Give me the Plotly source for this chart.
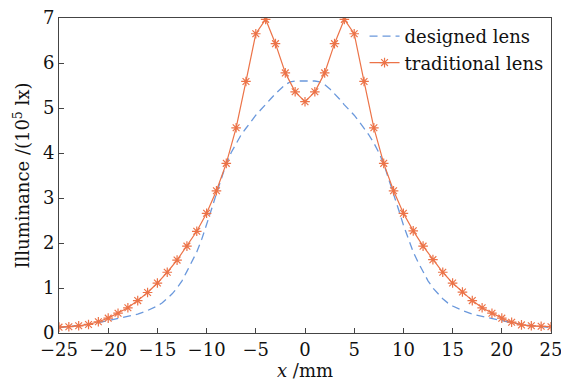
import plotly.graph_objects as go

# Illuminance profiles across the target plane (units of 1e5 lx)
trad_x = list(range(-25, 26))
trad_y = [0.13, 0.14, 0.16, 0.19, 0.25, 0.33, 0.44, 0.56, 0.72, 0.90,
          1.11, 1.35, 1.62, 1.93, 2.26, 2.66, 3.16, 3.77, 4.56, 5.59,
          6.65, 6.97, 6.43, 5.78, 5.36, 5.14, 5.36, 5.78, 6.43, 6.97,
          6.65, 5.59, 4.56, 3.77, 3.16, 2.66, 2.27, 1.93, 1.63, 1.35,
          1.11, 0.91, 0.72, 0.56, 0.44, 0.33, 0.24, 0.18, 0.16, 0.15, 0.14]

design_x = [-25, -24, -23, -22, -21, -20, -19, -18, -17, -16, -15,
            -14.5, -14, -13.5, -13, -12.5, -12, -11.5, -11, -10.5, -10,
            -9.5, -9, -8.5, -8, -7.5, -7, -6.5, -6, -5.5, -5, -4.5, -4,
            -3.5, -3, -2.5, -2, -1.5, -1, -0.5, 0, 0.5, 1, 1.5, 2, 2.5,
            3, 3.5, 4, 4.5, 5, 5.5, 6, 6.5, 7, 7.5, 8, 8.5, 9, 9.5, 10,
            10.5, 11, 11.5, 12, 12.5, 13, 13.5, 14, 14.5, 15, 16, 17, 18,
            19, 20, 21, 22, 23, 24, 25]
design_y = [0.12, 0.14, 0.16, 0.19, 0.23, 0.28, 0.32, 0.37, 0.42, 0.50, 0.60,
            0.67, 0.76, 0.87, 1.00, 1.16, 1.37, 1.57, 1.80, 2.08, 2.40,
            2.75, 3.10, 3.44, 3.76, 4.01, 4.22, 4.40, 4.55, 4.70, 4.84, 4.96, 5.07,
            5.20, 5.32, 5.43, 5.52, 5.58, 5.60, 5.60, 5.60, 5.60, 5.60, 5.58, 5.52, 5.43,
            5.32, 5.20, 5.07, 4.96, 4.84, 4.70, 4.55, 4.40, 4.22, 4.01, 3.76, 3.44, 3.10, 2.75, 2.40,
            2.08, 1.80, 1.57, 1.37, 1.16, 1.00, 0.87, 0.76, 0.67, 0.60, 0.50, 0.42, 0.37,
            0.32, 0.28, 0.23, 0.19, 0.16, 0.14, 0.12]

x_ticks = list(range(-25, 30, 5))
y_ticks = list(range(0, 8))

BLUE = "#6a98dc"
ORANGE = "#ec7348"
FONT = "DejaVu Serif"
TEXT = "#111111"

fig = go.Figure()
fig.add_trace(go.Scatter(
    x=design_x, y=design_y, mode="lines", name="designed lens",
    line=dict(color=BLUE, width=1.3, dash="8px,5px"),
))
fig.add_trace(go.Scatter(
    x=trad_x, y=trad_y, mode="lines+markers", name="traditional lens",
    line=dict(color=ORANGE, width=1.2),
    marker=dict(symbol="asterisk-open", size=8, color=ORANGE,
                line=dict(color=ORANGE, width=1.2)),
))

axis_common = dict(
    showline=True, linecolor="#444444", linewidth=1, mirror=True,
    ticks="inside", ticklen=5, tickcolor="#444444", showgrid=False,
    zeroline=False, tickfont=dict(family=FONT, size=18, color=TEXT),
    ticklabeloverflow="allow", automargin=False,
)
fig.update_xaxes(range=[-25, 25], tickvals=x_ticks,
                 title=dict(text="<i>x</i> /mm", standoff=0,
                            font=dict(family=FONT, size=18, color=TEXT)),
                 **axis_common)
fig.update_yaxes(range=[0, 7], tickvals=y_ticks,
                 title=dict(text="Illuminance /(10<sup>5</sup> lx)", standoff=8,
                            font=dict(family=FONT, size=18, color=TEXT)),
                 **axis_common)

fig.update_layout(
    width=561, height=382,
    margin=dict(l=59, r=10, t=18, b=49),
    paper_bgcolor="white", plot_bgcolor="white",
    showlegend=True,
    legend=dict(x=0.995, y=1.0, xanchor="right", yanchor="top",
                bgcolor="rgba(0,0,0,0)", borderwidth=0,
                font=dict(family=FONT, size=18, color=TEXT),
                tracegroupgap=0, itemwidth=30),
)

fig.write_html("out.html")
